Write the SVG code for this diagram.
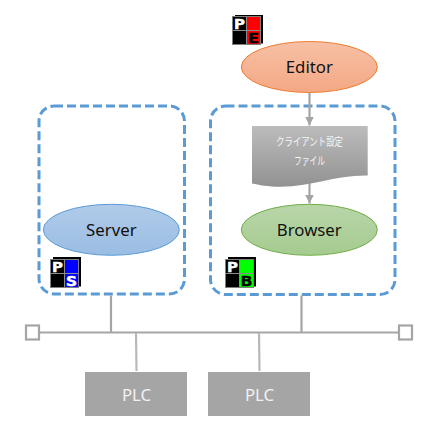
<svg xmlns="http://www.w3.org/2000/svg" width="435" height="428" viewBox="0 0 435 428">
<style>
.lbl{font-family:"Noto Sans","Open Sans","Noto Sans CJK JP",sans-serif;font-size:16.800px;text-anchor:middle;fill:#111}
.w{fill:#f2f2f2}
.jp{font-family:"Noto Sans CJK JP",sans-serif;font-size:11px;text-anchor:middle;fill:#f6f6f6}
.zone{fill:none;stroke:#5b9bd5;stroke-width:3;stroke-dasharray:9 4}
.g{fill:none;stroke:#a5a5a5;stroke-width:2.2}
.sq{fill:#fff;stroke:#a5a5a5;stroke-width:2.2}
.plc{fill:#a5a5a5}
.ic{font-family:"DejaVu Sans Mono",monospace;font-weight:bold;font-size:14px;text-anchor:middle;stroke-width:.5}
.shadow{fill:#000}
.frame{fill:none;stroke:#7f7f7f;stroke-width:1}
</style>
<defs>
<linearGradient id="o" x1="0" y1="0" x2="0" y2="1"><stop offset="0" stop-color="#f7c0a5"/><stop offset="1" stop-color="#f4a884"/></linearGradient>
<linearGradient id="b" x1="0" y1="0" x2="0" y2="1"><stop offset="0" stop-color="#b1cbe9"/><stop offset="1" stop-color="#9abde3"/></linearGradient>
<linearGradient id="v" x1="0" y1="0" x2="0" y2="1"><stop offset="0" stop-color="#b9d6aa"/><stop offset="1" stop-color="#a5cb8f"/></linearGradient>
<linearGradient id="d" x1="0" y1="0" x2="0" y2="1"><stop offset="0" stop-color="#bcbcbc"/><stop offset="1" stop-color="#929292"/></linearGradient>
<marker id="a" markerUnits="userSpaceOnUse" markerWidth="10" markerHeight="10" refX="9" refY="5" orient="auto"><path d="M0 0.500L9 5L0 9.500z" fill="#a5a5a5"/></marker>
</defs>

<g id="zone-server"><rect class="zone" x="39" y="106" width="145.500" height="188" rx="15"/></g>
<g id="zone-browser"><rect class="zone" x="210.500" y="106" width="184.500" height="188.500" rx="15"/></g>

<g id="connectors">
<path class="g" d="M309.500 93V125.500" marker-end="url(#a)"/>
<path class="g" d="M309.500 183V203.500" marker-end="url(#a)"/>
<path class="g" d="M39 332.500H398.500M111 295.500V332.500M301.500 295.500V332.500"/>
<path class="g" d="M136 333L136.500 371M259 333L259.500 371" style="stroke:#b8b8b8"/>
</g>

<g id="bus-left"><rect class="sq" x="26" y="325.500" width="13" height="14"/></g>
<g id="bus-right"><rect class="sq" x="399" y="325.500" width="13" height="14"/></g>

<g id="editor"><ellipse cx="309.300" cy="67" rx="68" ry="25.500" fill="url(#o)" stroke="#ed7d31" stroke-width="1"/><text class="lbl" x="309.300" y="73">Editor</text></g>
<g id="file"><path d="M252 126H367.700V175.500C335 175 310 187 280 186.800C268 186.600 259 185 252 183.500Z" fill="url(#d)"/><text class="jp" x="309.500" y="146" textLength="67" lengthAdjust="spacingAndGlyphs">クライアント設定</text><text class="jp" x="309.500" y="165" textLength="31" lengthAdjust="spacingAndGlyphs">ファイル</text></g>
<g id="browser"><ellipse cx="309.300" cy="229.800" rx="68" ry="25.500" fill="url(#v)" stroke="#70ad47" stroke-width="1"/><text class="lbl" x="309.300" y="236">Browser</text></g>
<g id="server"><ellipse cx="111.300" cy="229.800" rx="68" ry="25.500" fill="url(#b)" stroke="#5b9bd5" stroke-width="1"/><text class="lbl" x="111.300" y="236">Server</text></g>

<g id="plc1"><rect class="plc" x="85" y="372" width="102" height="44"/><text class="lbl w" x="136.500" y="401">PLC</text></g>
<g id="plc2"><rect class="plc" x="208" y="372" width="102" height="44"/><text class="lbl w" x="259.500" y="401">PLC</text></g>

<g id="icon-e">
<rect class="shadow" x="235" y="15" width="28" height="28.500"/>
<rect x="232.500" y="16.500" width="28" height="28" fill="#000"/>
<rect x="246.500" y="16.500" width="14" height="28" fill="#f00"/>
<path d="M232.500 30.500H260.500M246.500 16.500V44.500" stroke="#8c8c8c" fill="none"/><rect class="frame" x="232.500" y="16.500" width="28" height="28"/>
<text class="ic" x="239.500" y="28.500" fill="#fff" stroke="#fff" textLength="11" lengthAdjust="spacingAndGlyphs">P</text><text class="ic" x="253.500" y="42.500" fill="#000" stroke="#000" textLength="11" lengthAdjust="spacingAndGlyphs">E</text>
</g>
<g id="icon-s">
<rect class="shadow" x="53" y="257" width="28" height="29.500"/>
<rect x="50.500" y="259.500" width="28" height="28" fill="#000"/>
<rect x="64.500" y="259.500" width="14" height="28" fill="#00f"/>
<path d="M50.500 273.500H78.500M64.500 259.500V287.500" stroke="#8c8c8c" fill="none"/><rect class="frame" x="50.500" y="259.500" width="28" height="28"/>
<text class="ic" x="57.500" y="271.500" fill="#fff" stroke="#fff" textLength="11" lengthAdjust="spacingAndGlyphs">P</text><text class="ic" x="71.500" y="285.500" fill="#fff" stroke="#fff" textLength="11" lengthAdjust="spacingAndGlyphs">S</text>
</g>
<g id="icon-b">
<rect class="shadow" x="228" y="257" width="28" height="29.500"/>
<rect x="225.500" y="259.500" width="28" height="28" fill="#000"/>
<rect x="239.500" y="259.500" width="14" height="28" fill="#0f0"/>
<path d="M225.500 273.500H253.500M239.500 259.500V287.500" stroke="#8c8c8c" fill="none"/><rect class="frame" x="225.500" y="259.500" width="28" height="28"/>
<text class="ic" x="232.500" y="271.500" fill="#fff" stroke="#fff" textLength="11" lengthAdjust="spacingAndGlyphs">P</text><text class="ic" x="246.500" y="285.500" fill="#000" stroke="#000" textLength="11" lengthAdjust="spacingAndGlyphs">B</text>
</g>
</svg>
